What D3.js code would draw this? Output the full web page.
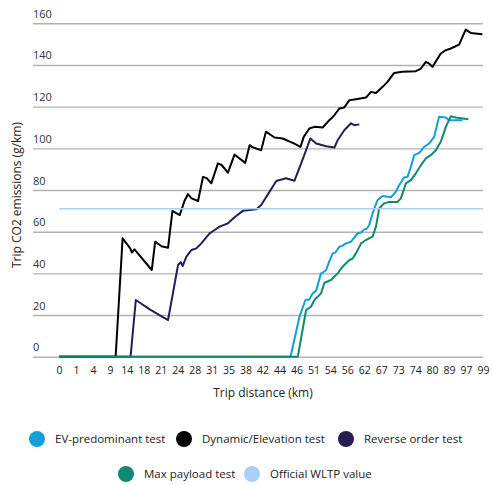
<!DOCTYPE html>
<html>
<head>
<meta charset="utf-8">
<script src="https://cdn.jsdelivr.net/npm/d3@7"></script>
<style>
  html, body { margin: 0; padding: 0; background: #fff; }
  svg { display: block; font-family: "Open Sans", sans-serif; }
</style>
</head>
<body>
<svg id="chart" width="492" height="485"></svg>
<script>
// Category tick labels on the x axis (trip distance, km)
const xLabels = ["0","1","4","9","14","18","21","24","28","31","35","38","42","44","46","51","54","56","62","67","73","74","80","89","97","99"];
const yTicks = [0, 20, 40, 60, 80, 100, 120, 140, 160];

// Series: [position along category axis (label slots), CO2 g/km]
const evPredominant = [[0,0],[13.65,0],[14.18,19.2],[14.53,27.2],[14.76,27.5],[14.96,30.4],[15.16,31.7],[15.45,40],[15.55,40.3],[15.75,41.6],[15.95,46],[16.14,49.6],[16.3,50],[16.53,52.8],[16.7,53.2],[16.92,54.4],[17.22,55.2],[17.4,57],[17.61,59.2],[17.8,59.6],[18,61.1],[18.15,61.4],[18.29,63.2],[18.49,68.8],[18.78,75.2],[19.08,77.1],[19.57,76.5],[19.86,79.1],[20.06,82.4],[20.35,86],[20.55,86.3],[20.75,91.1],[20.94,96.7],[21.24,97.8],[21.53,100.7],[21.82,102.3],[22.12,105.5],[22.41,115.1],[22.81,114.8],[23,113.5],[23.78,113.5]];
const dynamicElevation = [[0,0],[3.34,0],[3.75,56.8],[4.2,52],[4.3,50],[4.45,51.5],[5.47,41.6],[5.67,55.2],[6.04,53],[6.43,52.3],[6.69,70],[6.88,69],[7.12,68],[7.41,75],[7.6,78],[7.82,76],[8.2,74.7],[8.49,86.3],[8.71,85.7],[8.98,83.2],[9.37,92.8],[9.59,92],[9.96,88.3],[10.35,97],[10.53,95.8],[10.98,93],[11.24,101.5],[11.41,100.6],[11.92,99.1],[12.2,108],[12.71,105.2],[13.19,104.7],[13.78,102.6],[14.24,100.7],[14.43,105.5],[14.76,109.5],[15.06,110.3],[15.55,110],[15.94,113.5],[16.2,115.5],[16.53,119.1],[16.82,119.6],[17.12,123.1],[17.51,123.6],[18.1,124.4],[18.4,127.1],[18.69,126.6],[19.08,129.5],[19.37,131.9],[19.76,136.2],[20.25,136.7],[21.04,137],[21.34,138.3],[21.63,141.5],[21.82,140.7],[22.02,139.1],[22.51,145.5],[22.81,147.1],[23.1,147.9],[23.59,149.8],[23.98,157],[24.28,155.4],[24.96,154.8]];
const reverseOrder = [[0,0],[4.22,0],[4.53,27.2],[5.35,22.7],[6.43,17.6],[7.02,44],[7.18,45.4],[7.29,43.5],[7.51,48],[7.81,51.2],[8.1,52],[8.39,54.4],[8.88,59.2],[9.18,60.8],[9.47,62.4],[9.96,64],[10.35,66.9],[10.84,70],[11.63,70.7],[11.92,72.8],[12.41,79.1],[12.81,84.3],[13.39,85.6],[13.88,84.4],[14.28,92.8],[14.82,104.7],[15.16,102.3],[15.75,101],[16.24,100.4],[16.43,103.9],[16.82,108.7],[17.22,112],[17.41,111.1],[17.71,111.5]];
const maxPayload = [[0,0],[14.08,0],[14.57,22.4],[14.86,24],[15.06,27.2],[15.45,30.4],[15.65,35.5],[16.04,36.8],[16.43,40],[16.72,43.2],[17.12,46.4],[17.3,47],[17.51,49.6],[17.81,54.4],[18.1,56],[18.49,57.6],[18.69,62.4],[18.88,71.2],[19.18,73.6],[19.47,74.3],[19.96,74.3],[20.16,76],[20.45,83.2],[20.75,84.7],[21.04,88],[21.34,91.9],[21.63,95.2],[21.92,96.7],[22.22,99.1],[22.51,103.1],[22.81,110.3],[23.1,115.4],[23.39,114.8],[24.14,114]];
const officialWLTP = 71;

const seriesNames = ["EV-predominant test","Dynamic/Elevation test","Reverse order test","Max payload test","Official WLTP value"];
const seriesColors = ["#139fdc","#000000","#231f52","#0f8a73","#a9d1f7"];

const svg = d3.select("#chart");
const gridLeft = 33, gridRight = 483;
const x = d3.scaleLinear().domain([0, xLabels.length - 1]).range([59, 483]);
const y = d3.scaleLinear().domain([0, 160]).range([356.7, 23.3]);

// gridlines + y labels
const yAxis = d3.axisLeft(y).tickValues(yTicks).tickSize(-(gridRight - gridLeft)).tickFormat(d3.format("d"));
const gy = svg.append("g").attr("transform", `translate(${gridLeft},0)`).call(yAxis);
gy.select(".domain").remove();
gy.selectAll(".tick line").attr("stroke", "#b3b3b3").attr("stroke-width", 1.4);
gy.selectAll(".tick text").attr("x", 0).attr("dy", -6).attr("text-anchor", "start")
  .attr("fill", "#333").style("font-size", "11px").style("font-family", "'Open Sans', sans-serif");

// x tick labels
const xAxis = d3.axisBottom(x).tickValues(d3.range(xLabels.length)).tickSize(0).tickFormat(i => xLabels[i]);
const gx = svg.append("g").attr("transform", `translate(0,${y(0)})`).call(xAxis);
gx.select(".domain").remove();
gx.selectAll(".tick text").attr("y", 10).attr("dy", "0.71em").attr("fill", "#222")
  .style("font-size", "10.5px").style("font-family", "'Open Sans', sans-serif");

// axis titles
svg.append("text").attr("x", 263).attr("y", 397).attr("text-anchor", "middle")
  .attr("fill", "#222").style("font-size", "12px").text("Trip distance (km)");
svg.append("text").attr("transform", "translate(21,195) rotate(-90)").attr("text-anchor", "middle")
  .attr("fill", "#222").style("font-size", "12px").text("Trip CO2 emissions (g/km)");

const line = d3.line().x(d => x(d[0])).y(d => y(d[1]));
const lineData = [evPredominant, dynamicElevation, reverseOrder, maxPayload];
lineData.forEach((data, i) => {
  svg.append("path").datum(data).attr("d", line).attr("fill", "none")
    .attr("stroke", seriesColors[i]).attr("stroke-width", 2).attr("stroke-linejoin", "round");
});
// Official WLTP value
svg.append("line").attr("x1", x(0)).attr("x2", x(xLabels.length - 1))
  .attr("y1", y(officialWLTP)).attr("y2", y(officialWLTP))
  .attr("stroke", seriesColors[4]).attr("stroke-width", 1.6);

// legend
const legendPos = [[37,439],[184,439],[346,439],[126,474],[252,474]];
seriesNames.forEach((name, i) => {
  const [cx, cy] = legendPos[i];
  svg.append("circle").attr("cx", cx).attr("cy", cy).attr("r", 8).attr("fill", seriesColors[i]);
  svg.append("text").attr("x", cx + 18).attr("y", cy).attr("dy", "0.35em")
    .attr("fill", "#222").style("font-size", "11.5px").text(name);
});
</script>
</body>
</html>
